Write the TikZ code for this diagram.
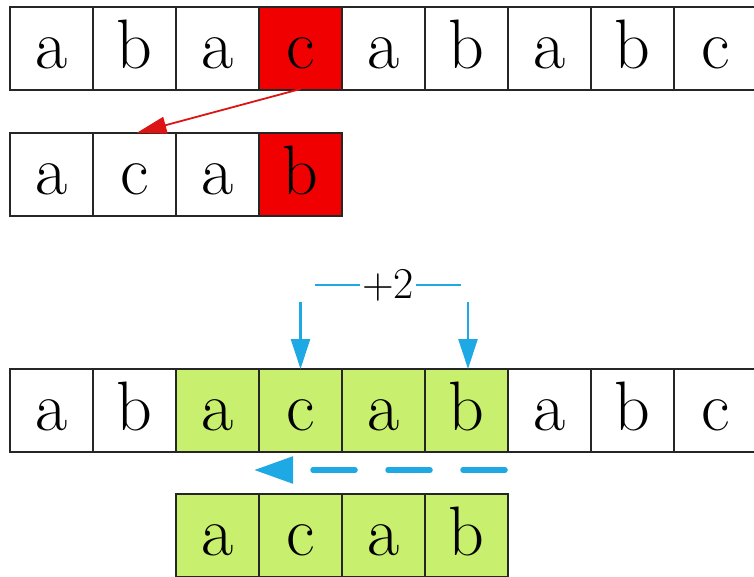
\documentclass[tikz,border=0pt]{standalone}
\usetikzlibrary{arrows.meta,calc}
\definecolor{cellred}{RGB}{240,0,0}
\definecolor{cellgreen}{RGB}{200,240,110}
\definecolor{arrowblue}{RGB}{30,168,228}
\definecolor{arrowred}{RGB}{220,20,20}
\begin{document}
\begin{tikzpicture}[x=1pt,y=-1pt,
  cell/.style={draw=black!85,line width=1.1pt,minimum width=83pt,minimum height=83pt,
    inner sep=0pt,outer sep=0pt,text height=48pt,text depth=9pt,
    font=\fontsize{70}{70}\selectfont},
  redcell/.style={cell,fill=cellred},
  greencell/.style={cell,fill=cellgreen},
  bluearrow/.style={draw=arrowblue,line width=2.6pt,-{Triangle[length=30pt,width=19pt]}},
  blueline/.style={draw=arrowblue,line width=2.6pt}]
\useasboundingbox (0,0) rectangle (754,576);
\clip (0,0) rectangle (754,576);
% row 1
\node[cell]    (r1c1) at (51.5,48.5) {a};
\node[cell]    (r1c2) at (134.5,48.5) {b};
\node[cell]    (r1c3) at (217.5,48.5) {a};
\node[redcell] (r1c4) at (300.5,48.5) {c};
\node[cell]    (r1c5) at (383.5,48.5) {a};
\node[cell]    (r1c6) at (466.5,48.5) {b};
\node[cell]    (r1c7) at (549.5,48.5) {a};
\node[cell]    (r1c8) at (632.5,48.5) {b};
\node[cell]    (r1c9) at (715.5,48.5) {c};
% row 2
\node[cell]    (r2c1) at (51.5,174.5) {a};
\node[cell]    (r2c2) at (134.5,174.5) {c};
\node[cell]    (r2c3) at (217.5,174.5) {a};
\node[redcell] (r2c4) at (300.5,174.5) {b};
% red arrow
\draw[arrowred,line width=1.8pt,-{Triangle[length=30pt,width=17pt]}]
  ([yshift=1pt]r1c4.south) -- ([xshift=2pt]r2c2.north);
% row 3
\node[cell]      (r3c1) at (51.5,410.5) {a};
\node[cell]      (r3c2) at (134.5,410.5) {b};
\node[greencell] (r3c3) at (217.5,410.5) {a};
\node[greencell] (r3c4) at (300.5,410.5) {c};
\node[greencell] (r3c5) at (383.5,410.5) {a};
\node[greencell] (r3c6) at (466.5,410.5) {b};
\node[cell]      (r3c7) at (549.5,410.5) {a};
\node[cell]      (r3c8) at (632.5,410.5) {b};
\node[cell]      (r3c9) at (715.5,410.5) {c};
% row 4
\node[greencell] (r4c1) at (217.5,535.5) {a};
\node[greencell] (r4c2) at (300.5,535.5) {c};
\node[greencell] (r4c3) at (383.5,535.5) {a};
\node[greencell] (r4c4) at (466.5,535.5) {b};
% +2 label
\node[inner sep=1pt,anchor=base,font=\fontsize{44}{44}\selectfont] (plus) at (388,298) {+2};
\draw[blueline] ([xshift=-1pt]plus.west |- 0,285) -- ++(-45,0);
\draw[blueline] ([xshift=1pt]plus.east |- 0,285) -- ++(45,0);
\coordinate (d1) at ($(r3c4.north)+(0,-67)$);
\coordinate (d2) at ($(r3c6.north)+(1.5,-67)$);
\draw[bluearrow] (d1) -- (r3c4.north);
\draw[bluearrow] (d2) -- ([xshift=1.5pt]r3c6.north);
% dashed shift arrow
\coordinate (ds) at ($(r3c6.south east)+(0,18)$);
\coordinate (de) at (254,470);
\draw[draw=arrowblue,line width=5.5pt,line cap=round,dash pattern=on 42pt off 33pt,
  -{Triangle[length=39pt,width=26pt,line cap=butt]}] ([xshift=-3pt]ds) -- (de);
\end{tikzpicture}
\end{document}
